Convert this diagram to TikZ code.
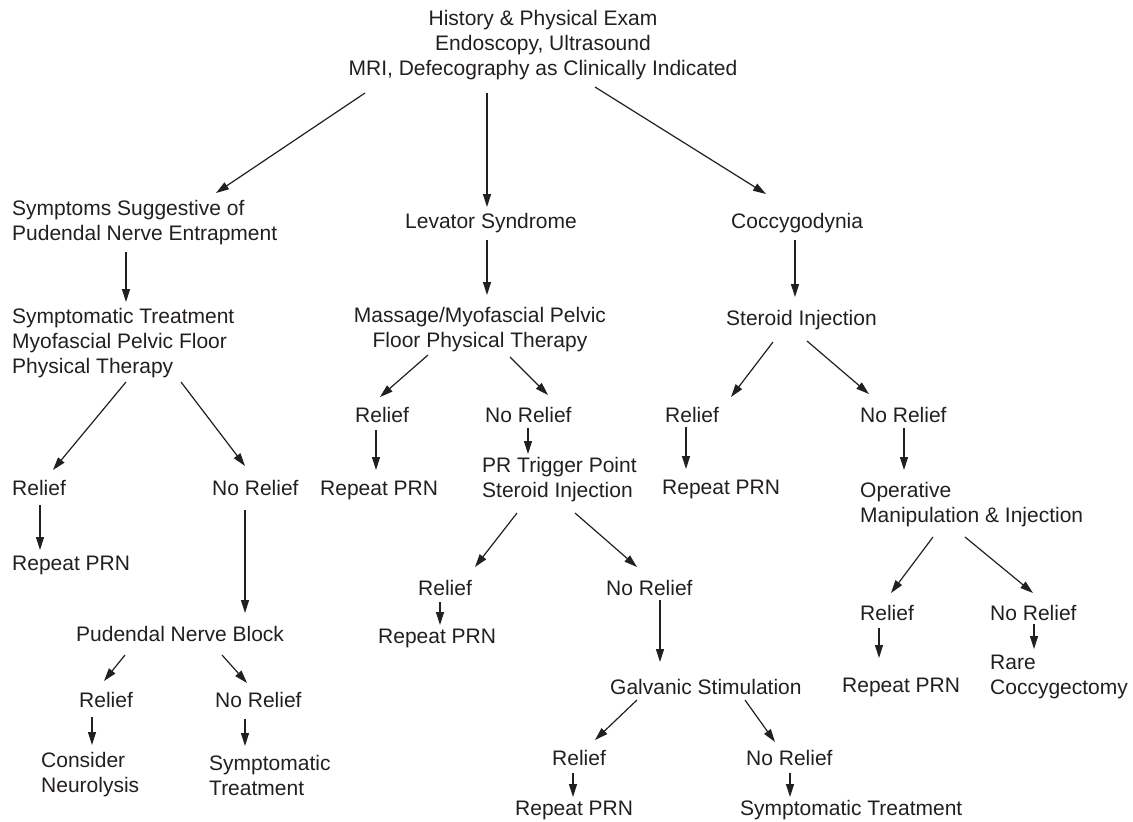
\documentclass[tikz,border=0pt]{standalone}
\usepackage{fontspec}
\setmainfont{Liberation Sans}
\usetikzlibrary{arrows.meta,calc}
\definecolor{ink}{HTML}{231F20}
\tikzset{
  lbl/.style={inner sep=0pt, text=ink, font=\fontsize{21}{25}\selectfont, anchor=west, align=left},
  clbl/.style={lbl, anchor=center, align=center},
  arr/.style={draw=ink, line width=1.2pt, -{Triangle[length=13pt,width=8pt]}},
}
\begin{document}
\begin{tikzpicture}[x=1pt,y=-1pt]
\useasboundingbox (0,0) rectangle (1133,822);
% nodes
\node[clbl] (top) at (543,45) {History \& Physical Exam\\Endoscopy, Ultrasound\\MRI, Defecography as Clinically Indicated};
\node[lbl] (sym) at (12,223) {Symptoms Suggestive of\\Pudendal Nerve Entrapment};
\node[lbl] (lev) at (405,223) {Levator Syndrome};
\node[lbl] (coc) at (731,223) {Coccygodynia};
\node[lbl] (symt) at (12,343) {Symptomatic Treatment\\Myofascial Pelvic Floor\\Physical Therapy};
\node[clbl] (mas) at (480,330) {Massage/Myofascial Pelvic\\Floor Physical Therapy};
\node[lbl] (ste) at (726,320) {Steroid Injection};
\node[lbl] (r1) at (12,488) {Relief};
\node[lbl] (n1) at (212,488) {No Relief};
\node[lbl] (rp1) at (12,565) {Repeat PRN};
\node[lbl] (pnb) at (76,634) {Pudendal Nerve Block};
\node[lbl] (r1a) at (79,700) {Relief};
\node[lbl] (n1a) at (215,700) {No Relief};
\node[lbl] (cn) at (41,775) {Consider\\Neurolysis};
\node[lbl] (st1) at (209,775) {Symptomatic\\Treatment};
\node[lbl] (r2) at (355,415) {Relief};
\node[lbl] (n2) at (485,415) {No Relief};
\node[lbl] (rp2) at (320,490) {Repeat PRN};
\node[lbl] (prt) at (482,480) {PR Trigger Point\\Steroid Injection};
\node[lbl] (r3) at (418,588) {Relief};
\node[lbl] (n3) at (606,588) {No Relief};
\node[lbl] (rp3) at (378,638) {Repeat PRN};
\node[lbl] (gal) at (610,687) {Galvanic Stimulation};
\node[lbl] (r4) at (552,758) {Relief};
\node[lbl] (n4) at (746,758) {No Relief};
\node[lbl] (rp4) at (515,810) {Repeat PRN};
\node[lbl] (st4) at (740,810) {Symptomatic Treatment};
\node[lbl] (r5) at (665,415) {Relief};
\node[lbl] (n5) at (860,415) {No Relief};
\node[lbl] (rp5) at (662,489) {Repeat PRN};
\node[lbl] (op) at (860,505) {Operative\\Manipulation \& Injection};
\node[lbl] (r6) at (860,613) {Relief};
\node[lbl] (n6) at (990,613) {No Relief};
\node[lbl] (rp6) at (842,687) {Repeat PRN};
\node[lbl] (rc) at (990,677) {Rare\\Coccygectomy};
% connectors
\draw[arr] ($(top)+(-178,48)$) -- ($(sym.west)+(204,-30)$);
\draw[arr] ($(top)+(-56,48)$) -- ($(lev.west)+(82,-16)$);
\draw[arr] ($(top)+(52,42)$) -- ($(coc.west)+(35,-29)$);
\draw[arr] ($(sym.west)+(114,29)$) -- ($(symt.west)+(114,-41)$);
\draw[arr] ($(lev.west)+(82,17)$) -- ($(mas)+(7,-35)$);
\draw[arr] ($(coc.west)+(64,17)$) -- ($(ste.west)+(69,-23)$);
\draw[arr] ($(symt.west)+(114,39)$) -- ($(r1.west)+(41,-18)$);
\draw[arr] ($(symt.west)+(169,39)$) -- ($(n1.west)+(33,-22)$);
\draw[arr] ($(r1.west)+(28,17)$) -- ($(rp1.west)+(28,-15)$);
\draw[arr] ($(n1.west)+(33,22)$) -- ($(pnb.west)+(169,-21)$);
\draw[arr] ($(pnb.west)+(49,21)$) -- ($(r1a.west)+(25,-19)$);
\draw[arr] ($(pnb.west)+(146,21)$) -- ($(n1a.west)+(32,-17)$);
\draw[arr] ($(r1a.west)+(13,17)$) -- ($(cn.west)+(51,-30)$);
\draw[arr] ($(n1a.west)+(30,19)$) -- ($(st1.west)+(36,-29)$);
\draw[arr] ($(mas)+(-52,25)$) -- ($(r2.west)+(25,-18)$);
\draw[arr] ($(mas)+(30,27)$) -- ($(n2.west)+(63,-20)$);
\draw[arr] ($(r2.west)+(21,15)$) -- ($(rp2.west)+(56,-20)$);
\draw[arr] ($(n2.west)+(43,13)$) -- ($(prt.west)+(46,-26)$);
\draw[arr] ($(prt.west)+(35,33)$) -- ($(r3.west)+(57,-21)$);
\draw[arr] ($(prt.west)+(93,33)$) -- ($(n3.west)+(31,-21)$);
\draw[arr] ($(r3.west)+(22,14)$) -- ($(rp3.west)+(62,-13)$);
\draw[arr] ($(n3.west)+(54,12)$) -- ($(gal.west)+(50,-25)$);
\draw[arr] ($(gal.west)+(27,13)$) -- ($(r4.west)+(43,-18)$);
\draw[arr] ($(gal.west)+(135,13)$) -- ($(n4.west)+(29,-16)$);
\draw[arr] ($(r4.west)+(21,15)$) -- ($(rp4.west)+(58,-13)$);
\draw[arr] ($(n4.west)+(44,15)$) -- ($(st4.west)+(50,-13)$);
\draw[arr] ($(ste.west)+(47,22)$) -- ($(r5.west)+(66,-18)$);
\draw[arr] ($(ste.west)+(81,21)$) -- ($(n5.west)+(9,-21)$);
\draw[arr] ($(r5.west)+(21,12)$) -- ($(rp5.west)+(24,-20)$);
\draw[arr] ($(n5.west)+(44,13)$) -- ($(op.west)+(44,-35)$);
\draw[arr] ($(op.west)+(73,32)$) -- ($(r6.west)+(31,-20)$);
\draw[arr] ($(op.west)+(105,32)$) -- ($(n6.west)+(43,-20)$);
\draw[arr] ($(r6.west)+(19,15)$) -- ($(rp6.west)+(37,-29)$);
\draw[arr] ($(n6.west)+(44,11)$) -- ($(rc.west)+(44,-28)$);
\end{tikzpicture}
\end{document}
